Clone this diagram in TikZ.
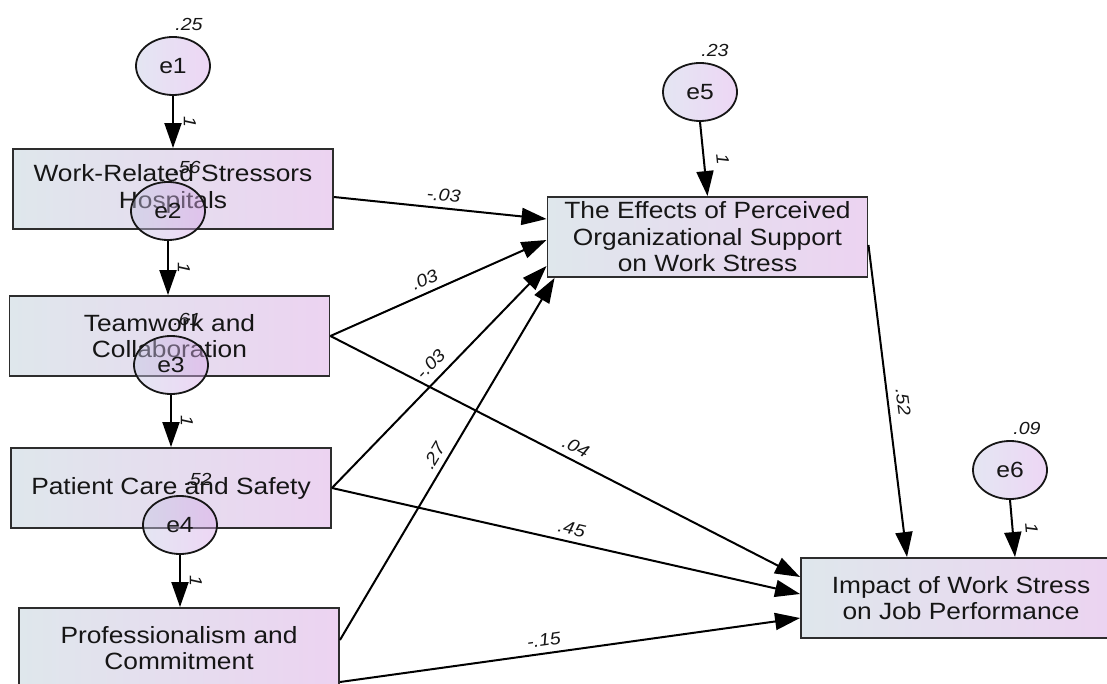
\documentclass[tikz,border=0pt]{standalone}
\usepackage{fontspec}
\setmainfont{Liberation Sans}[FakeStretch=1.12]
\usetikzlibrary{arrows.meta,shapes.geometric,calc}
\definecolor{boxL}{HTML}{DFE7EC}
\definecolor{boxR}{HTML}{ECD3F1}
\definecolor{cirL}{HTML}{C4C8E4}
\definecolor{cirR}{HTML}{D9A6E9}
\definecolor{ink}{HTML}{161616}
\begin{document}
\begin{tikzpicture}[x=1pt,y=-1pt,
  box/.style={draw=ink!90, line width=1.9pt, minimum width=320pt, minimum height=80pt,
    inner sep=0pt, align=center, left color=boxL, right color=boxR,
    font=\fontsize{23.5}{26.5}\selectfont, text=ink},
  err/.style={ellipse, draw=ink, line width=1.8pt, minimum width=74pt, minimum height=58pt,
    inner sep=0pt, left color=cirL, right color=cirR, fill opacity=0.45, text opacity=1,
    draw opacity=1, font=\fontsize{22}{24}\selectfont, text=ink},
  arr/.style={line width=2pt, draw=black, -{Triangle[length=25pt,width=17pt]}},
  coef/.style={font=\itshape\fontsize{17.5}{19}\selectfont, inner sep=1pt, text=ink},
]
\useasboundingbox (0,0) rectangle (1107,684);
\fill[white] (0,0) rectangle (1107,684);

% observed variables
\node[box] (b1) at (173,189)   {Work-Related Stressors\\Hospitals};
\node[box] (b2) at (169.5,336) {Teamwork and\\Collaboration};
\node[box] (b3) at (171,488)   {Patient Care and Safety};
\node[box] (b4) at (179,648)   {Professionalism and\\Commitment};
\node[box] (b5) at (707.5,237) {The Effects of Perceived\\Organizational Support\\on Work Stress};
\node[box] (b6) at (961,598)   {Impact of Work Stress\\on Job Performance};

% error terms
\node[err] (e1) at (173,66)  {e1};
\node[err] (e2) at (168,211) {e2};
\node[err] (e3) at (171,365) {e3};
\node[err] (e4) at (180,525) {e4};
\node[err] (e5) at (700,92)  {e5};
\node[err] (e6) at (1010,470) {e6};

% variances
\node[coef] (v1) at ($(e1)+(16,-42)$) {.25};
\node[coef] (v2) at ($(e2)+(19,-44)$) {.56};
\node[coef] (v3) at ($(e3)+(16,-46)$) {.61};
\node[coef] (v4) at ($(e4)+(18,-46)$) {.52};
\node[coef] (v5) at ($(e5)+(15,-42)$) {.23};
\node[coef] (v6) at ($(e6)+(17,-42)$) {.09};

% error paths
\draw[arr] (e1.south) -- node[coef, pos=.5, xshift=17pt, rotate=-90] {1} (e1.south |- b1.north);
\draw[arr] (e2.south) -- node[coef, pos=.5, xshift=16pt, rotate=-90] {1} (e2.south |- b2.north);
\draw[arr] (e3.south) -- node[coef, pos=.5, xshift=16pt, rotate=-90] {1} (e3.south |- b3.north);
\draw[arr] (e4.south) -- node[coef, pos=.5, xshift=16pt, rotate=-90] {1} (e4.south |- b4.north);
\draw[arr] (e5.south) -- node[coef, pos=.5, xshift=19pt, rotate=-84] {1} (b5.north);
\draw[arr] (e6.south) -- node[coef, pos=.5, xshift=19pt, rotate=-85] {1} ([xshift=54pt]b6.north);

% structural paths
\draw[arr] ([yshift=-8pt]b1.east) -- node[coef, pos=.51, sloped, above=5pt] {-.03} ([yshift=18pt]b5.west);
\draw[arr] (b2.east) -- node[coef, pos=.46, sloped, above=5pt] {.03} ([yshift=-3pt]b5.west);
\draw[arr] (b2.east) -- node[coef, pos=.51, sloped, above=5pt] {.04} ([yshift=21pt]b6.west);
\draw[arr] (b3.east) -- node[coef, pos=.51, sloped, above=7pt] {-.03} ([yshift=-29pt]b5.west);
\draw[arr] ([yshift=8pt]b4.east) -- node[coef, pos=.49, sloped, above=5pt] {.27} ([xshift=8pt]b5.south west);
\draw[arr] (b3.east) -- node[coef, pos=.506, sloped, above=5pt] {.45} ([yshift=4pt]b6.west);
\draw[arr] ([yshift=-34pt]b4.east) -- node[coef, pos=.447, sloped, above=5pt] {-.15} ([yshift=-20pt]b6.west);
\draw[arr] ([yshift=-8pt]b5.east) -- node[coef, pos=.51, sloped, above=7pt] {.52} ([xshift=-54pt]b6.north);
\end{tikzpicture}
\end{document}
